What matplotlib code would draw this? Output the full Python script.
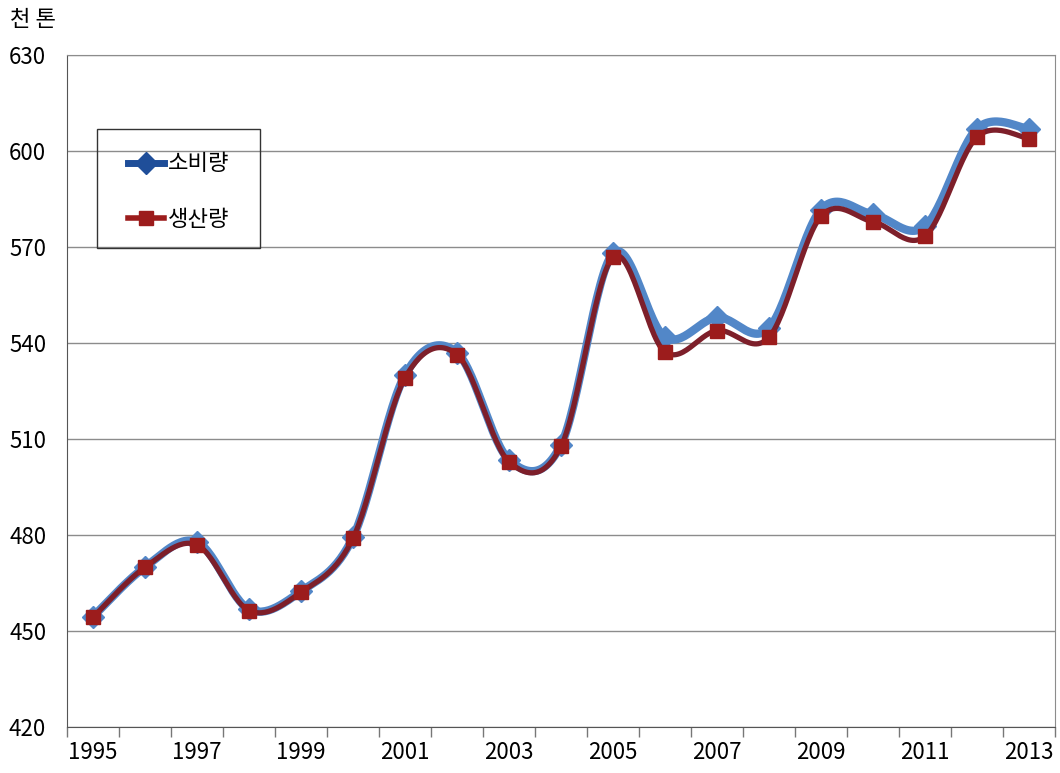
import numpy as np
import matplotlib.pyplot as plt
from matplotlib.lines import Line2D
from matplotlib.patches import Rectangle

plt.rcParams['font.family'] = ['Noto Sans CJK KR', 'DejaVu Sans']

# 연도별 소비량 / 생산량 (천 톤)
years = list(range(1995, 2014))
consumption = [454.5, 470.0, 477.8, 456.8, 462.4, 479.3, 530.0, 537.0, 503.5, 508.2,
               568.0, 541.8, 548.0, 544.7, 581.7, 580.2, 576.5, 607.0, 606.9]
production = [454.3, 469.9, 476.9, 456.4, 462.1, 479.0, 529.1, 536.4, 502.9, 507.7,
              566.8, 537.2, 543.9, 541.8, 579.6, 577.9, 573.4, 604.4, 603.9]


def smooth(x, y, n=30):
    # 엑셀식 부드러운 선: Catmull-Rom 베지어
    x = np.asarray(x, float)
    y = np.asarray(y, float)
    pts = np.column_stack([x, y])
    ext = np.vstack([pts[0], pts, pts[-1]])
    out = []
    t = np.linspace(0, 1, n)[:, None]
    for i in range(len(pts) - 1):
        p0, p3 = ext[i + 1], ext[i + 2]
        c1 = p0 + (ext[i + 2] - ext[i]) / 6
        c2 = p3 - (ext[i + 3] - ext[i + 1]) / 6
        seg = ((1 - t) ** 3 * p0 + 3 * (1 - t) ** 2 * t * c1
               + 3 * (1 - t) * t ** 2 * c2 + t ** 3 * p3)
        out.append(seg if i == 0 else seg[1:])
    out = np.vstack(out)
    return out[:, 0], out[:, 1]


fig = plt.figure(figsize=(10.6, 7.73), dpi=100)
ax = fig.add_axes([0.0632, 0.0595, 0.9321, 0.8693])

idx = np.arange(len(years))
blue_line = '#5287c8'
red_line = '#7d1f2a'

sx, sy = smooth(idx, consumption)
ax.plot(sx, sy, color=blue_line, lw=6, solid_capstyle='round', zorder=3)
ax.plot(idx, consumption, ls='none', marker='D', ms=11, color=blue_line, zorder=3)

sx, sy = smooth(idx, production)
ax.plot(sx, sy, color=red_line, lw=3.8, solid_capstyle='round', zorder=4)
ax.plot(idx, production, ls='none', marker='s', ms=10, color='#9c1c1c', zorder=5)

ax.set_xlim(-0.5, len(years) - 0.5)
ax.set_ylim(420, 630)
ax.set_yticks(np.arange(420, 631, 30))
ax.grid(axis='y', color='#8c8c8c', lw=1)
ax.set_axisbelow(True)

# 눈금선은 항목 경계, 라벨은 격년으로 항목 가운데
ax.set_xticks(np.arange(-0.5, len(years), 1))
ax.set_xticklabels([])
ax.set_xticks(idx[::2], minor=True)
ax.set_xticklabels([str(y) for y in years[::2]], minor=True)
ax.tick_params(axis='x', which='major', length=7, width=1, color='#777777', direction='out')
ax.tick_params(axis='x', which='minor', length=0, pad=10, labelsize=16)
ax.tick_params(axis='y', length=0, pad=15, labelsize=16)

for side in ['top', 'right']:
    ax.spines[side].set_color('#8c8c8c')
for side in ['left', 'bottom']:
    ax.spines[side].set_color('#555555')

fig.text(0.009, 0.975, '천 톤', fontsize=16, va='center', ha='left')

# 범례 테두리
fig.patches.append(Rectangle((0.0915, 0.6792), 0.1538, 0.1539, transform=fig.transFigure,
                             fill=False, edgecolor='#333333', lw=1, zorder=6))
handles = [
    Line2D([], [], color='#1f4e99', lw=5, marker='D', ms=11),
    Line2D([], [], color='#9c1c1c', lw=4, marker='s', ms=10),
]
leg = fig.legend(handles, ['소비량', '생산량'], loc='upper left',
                 bbox_to_anchor=(0.121, 0.803), fontsize=16, frameon=False,
                 labelspacing=1.45, handlelength=1.6, borderpad=0,
                 handletextpad=0.2, borderaxespad=0)

fig.savefig('out.png', dpi=100)
